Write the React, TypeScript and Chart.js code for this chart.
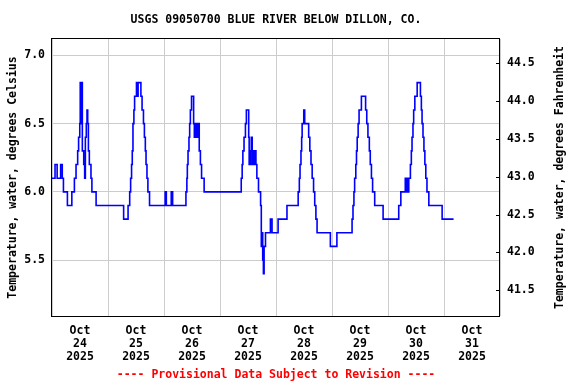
import { useEffect, useRef } from "react";
import { Chart, registerables } from "chart.js";

Chart.register(...registerables);

const FONT = '"DejaVu Sans Mono", "Liberation Mono", monospace';

const chartTitle = "USGS 09050700 BLUE RIVER BELOW DILLON, CO.";
const footerText = "---- Provisional Data Subject to Revision ----";
const leftAxisTitle = "Temperature, water, degrees Celsius";
const rightAxisTitle = "Temperature, water, degrees Fahrenheit";

// x: hours since Oct 24 2025 00:00
const xMonth = "Oct";
const xYear = "2025";
const xDays = ["24", "25", "26", "27", "28", "29", "30", "31"];

const yTicksC = [5.5, 6.0, 6.5, 7.0];
const yTicksF = [41.5, 42.0, 42.5, 43.0, 43.5, 44.0, 44.5];
const yMinC = 5.09;
const yMaxC = 7.12;

const hours = [
  0, 1.3, 2.2, 3.7, 4.4, 4.9, 6.6, 8.5, 9.6, 10.3, 11.0, 11.4, 11.9, 12.1, 12.3, 12.5, 12.7, 12.8,
  13.0, 13.6, 14.0, 14.3, 14.7, 15.0, 15.3, 15.6, 16.0, 16.7, 17.1, 18.9, 30.7, 32.6, 33.3, 33.7,
  34.1, 34.4, 34.7, 35.1, 35.4, 36.2, 36.7, 36.9, 38.1, 38.6, 39.2, 39.6, 40.0, 40.3, 40.7, 41.1,
  41.8, 48.5, 49.0, 51.1, 51.7, 57.4, 57.8, 58.0, 58.3, 58.7, 59.0, 59.3, 59.8, 60.7, 61.0, 61.2,
  61.4, 61.6, 61.8, 62.0, 62.3, 62.6, 63.1, 63.6, 64.1, 65.2, 81.1, 81.5, 81.8, 82.3, 82.9, 83.3,
  84.3, 84.5, 84.7, 84.9, 85.1, 85.4, 85.8, 86.0, 86.2, 86.5, 86.7, 86.9, 87.4, 87.8, 88.5, 89.4,
  89.7, 90.0, 90.3, 90.6, 90.9, 91.5, 93.6, 94.3, 96.9, 100.7, 105.5, 106.0, 106.3, 106.7, 107.0,
  107.2, 107.9, 108.3, 110.0, 110.5, 111.0, 111.5, 112.1, 112.6, 113.1, 113.6, 119.3, 122.1, 128.6,
  129.0, 129.4, 129.7, 130.2, 130.5, 130.8, 131.2, 131.6, 132.6, 134.4, 134.9, 135.4, 136.0, 136.4,
  136.9, 137.4, 138.3, 141.9, 148.6, 149.5, 151.4, 151.7, 152.0, 152.3, 152.9, 153.6, 154.0, 154.3,
  154.7, 155.0, 155.5, 156.5, 157.9, 158.3, 158.6, 159.0, 159.4, 159.8, 160.2, 160.7, 161.5, 167.2,
  172.1,
];

const tempsC = [
  6.1, 6.2, 6.1, 6.2, 6.1, 6.0, 5.9, 6.0, 6.1, 6.2, 6.3, 6.4, 6.5, 6.8, 6.5, 6.8, 6.6, 6.8,
  6.3, 6.2, 6.1, 6.4, 6.5, 6.6, 6.5, 6.3, 6.2, 6.1, 6.0, 5.9, 5.8, 5.9, 6.0, 6.1,
  6.2, 6.3, 6.5, 6.6, 6.7, 6.8, 6.7, 6.8, 6.7, 6.6, 6.5, 6.4, 6.3, 6.2, 6.1, 6.0,
  5.9, 6.0, 5.9, 6.0, 5.9, 6.0, 6.1, 6.2, 6.3, 6.4, 6.5, 6.6, 6.7, 6.5, 6.4, 6.5,
  6.4, 6.5, 6.4, 6.5, 6.4, 6.5, 6.3, 6.2, 6.1, 6.0, 6.1, 6.2, 6.3, 6.4, 6.5, 6.6,
  6.4, 6.2, 6.3, 6.2, 6.3, 6.4, 6.2, 6.3, 6.2, 6.3, 6.2, 6.3, 6.2, 6.1, 6.0, 5.9,
  5.6, 5.7, 5.5, 5.4, 5.6, 5.7, 5.8, 5.7, 5.8, 5.9, 6.0, 6.1, 6.2, 6.3, 6.4,
  6.5, 6.6, 6.5, 6.4, 6.3, 6.2, 6.1, 6.0, 5.9, 5.8, 5.7, 5.6, 5.7, 5.8,
  5.9, 6.0, 6.1, 6.2, 6.3, 6.4, 6.5, 6.6, 6.7, 6.6, 6.5, 6.4, 6.3, 6.2,
  6.1, 6.0, 5.9, 5.8, 5.9, 6.0, 6.1, 6.0, 6.1, 6.0, 6.1, 6.2, 6.3, 6.4,
  6.5, 6.6, 6.7, 6.8, 6.7, 6.6, 6.5, 6.4, 6.3, 6.2, 6.1, 6.0, 5.9, 5.8,
  5.8,
];

const cToF = (c: number) => c * 1.8 + 32;

const framePlugin = {
  id: "usgsFrame",
  afterDraw(chart: any) {
    const { ctx, chartArea } = chart;
    const { left, right, top, bottom } = chartArea;
    ctx.save();
    ctx.strokeStyle = "#000";
    ctx.lineWidth = 1;
    ctx.strokeRect(left - 0.5, top - 0.5, right - left, bottom - top + 1);
    // inward ticks on the right axis
    const y2 = chart.scales.y2;
    ctx.beginPath();
    yTicksF.forEach((v) => {
      const py = Math.round(y2.getPixelForValue(v)) + 0.5;
      ctx.moveTo(right - 4, py);
      ctx.lineTo(right, py);
    });
    ctx.stroke();
    // titles
    ctx.fillStyle = "#000";
    ctx.font = `bold 11.5px ${FONT}`;
    ctx.textAlign = "center";
    ctx.textBaseline = "middle";
    const cx = (left + right) / 2;
    ctx.fillText(chartTitle, cx, 20);
    ctx.fillStyle = "#ff0000";
    ctx.fillText(footerText, cx, 375);
    ctx.fillStyle = "#000";
    const cy = (top + bottom) / 2;
    ctx.save();
    ctx.translate(13, cy);
    ctx.rotate(-Math.PI / 2);
    ctx.fillText(leftAxisTitle, 0, 0);
    ctx.restore();
    ctx.save();
    ctx.translate(560, cy);
    ctx.rotate(-Math.PI / 2);
    ctx.fillText(rightAxisTitle, 0, 0);
    ctx.restore();
    ctx.restore();
  },
};

export default function App() {
  const ref = useRef<HTMLCanvasElement>(null);
  useEffect(() => {
    const tickFont = { family: FONT, size: 11.5, weight: "bold" as const, lineHeight: 1.15 };
    const xTickHours: number[] = [];
    for (let h = 0; h <= 192; h += 12) xTickHours.push(h);
    const chart = new Chart(ref.current!, {
      type: "line",
      data: {
        datasets: [
          {
            data: hours.map((h, i) => ({ x: h, y: tempsC[i] })),
            borderColor: "#0000ff",
            borderWidth: 1.6,
            pointRadius: 0,
            stepped: "before",
            fill: false,
            yAxisID: "y",
          },
        ],
      },
      options: {
        responsive: false,
        animation: false,
        devicePixelRatio: 1,
        layout: { padding: { top: 39, left: 0, right: 0, bottom: 0 } },
        plugins: { legend: { display: false }, tooltip: { enabled: false }, title: { display: false } },
        scales: {
          x: {
            type: "linear",
            min: 0,
            max: 192,
            afterBuildTicks: (s: any) => {
              s.ticks = xTickHours.map((v) => ({ value: v }));
            },
            afterFit: (s: any) => {
              s.height = 68;
            },
            border: { display: false },
            grid: {
              color: (ctx: any) =>
                ctx.tick && ctx.tick.value % 24 === 0 ? "#cccccc" : "rgba(0,0,0,0)",
              drawTicks: false,
            },
            ticks: {
              autoSkip: false,
              maxRotation: 0,
              minRotation: 0,
              padding: 8,
              color: "#000",
              font: tickFont,
              callback: (v: any) => {
                const n = Number(v);
                if (n % 24 === 12) {
                  const idx = (n - 12) / 24;
                  return [xMonth, xDays[idx], xYear];
                }
                return "";
              },
            },
          },
          y: {
            position: "left",
            min: yMinC,
            max: yMaxC,
            afterBuildTicks: (s: any) => {
              s.ticks = yTicksC.map((v) => ({ value: v }));
            },
            afterFit: (s: any) => {
              s.width = 52;
            },
            border: { display: false },
            grid: { color: "#cccccc", drawTicks: false },
            ticks: {
              padding: 7,
              color: "#000",
              font: tickFont,
              callback: (v: any) => Number(v).toFixed(1),
            },
          },
          y2: {
            position: "right",
            min: cToF(yMinC),
            max: cToF(yMaxC),
            afterBuildTicks: (s: any) => {
              s.ticks = yTicksF.map((v) => ({ value: v }));
            },
            afterFit: (s: any) => {
              s.width = 76;
            },
            border: { display: false },
            grid: { drawOnChartArea: false, drawTicks: false },
            ticks: {
              padding: 7,
              color: "#000",
              font: tickFont,
              callback: (v: any) => Number(v).toFixed(1),
            },
          },
        },
      } as any,
      plugins: [framePlugin],
    });
    return () => chart.destroy();
  }, []);
  return (
    <div style={{ position: "fixed", left: 0, top: 0, width: 576, height: 384, background: "#fff" }}>
      <canvas ref={ref} width={576} height={384} style={{ display: "block" }} />
    </div>
  );
}
